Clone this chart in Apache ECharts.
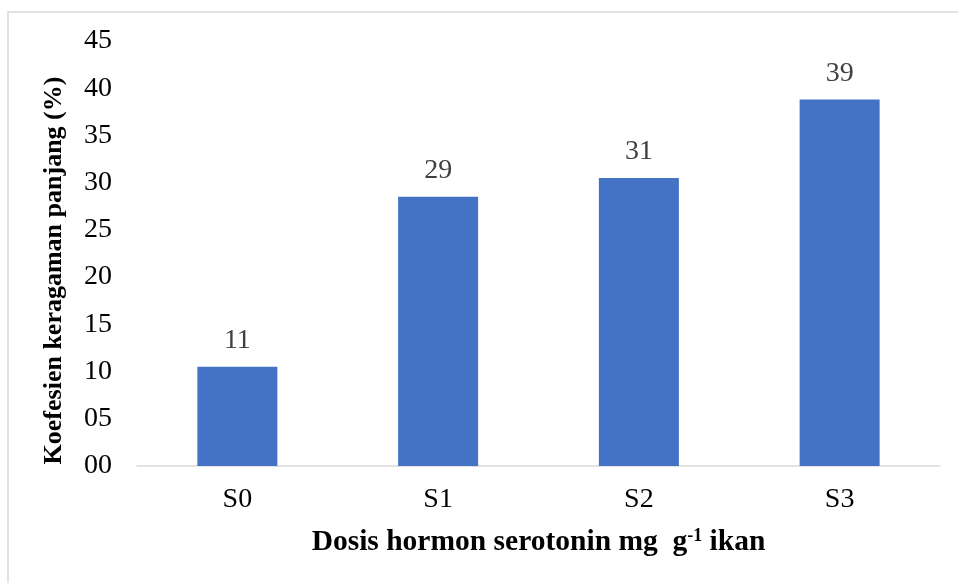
<!DOCTYPE html>
<html>
<head>
<meta charset="utf-8">
<title>Koefesien keragaman panjang</title>
<script src="https://cdn.jsdelivr.net/npm/echarts@6/dist/echarts.min.js"></script>
<style>
    html, body { margin: 0; padding: 0; background: #ffffff; }
    #chart { width: 958px; height: 583px; }
</style>
</head>
<body>
<div id="chart"></div>
<script>
var categories = ['S0', 'S1', 'S2', 'S3'];
var values = [10.5, 28.5, 30.5, 38.8];

var serif = '"Liberation Serif", "Times New Roman", serif';

var option = {
    animation: false,
    textStyle: { fontFamily: serif },
    graphic: [{
        type: 'rect',
        shape: { x: 8, y: 12, width: 1000, height: 1000 },
        style: { fill: 'none', stroke: '#d9d9d9', lineWidth: 1.5 }
    }],
    grid: { left: 137, right: 18, top: 41, bottom: 117 },
    xAxis: {
        type: 'category',
        data: categories,
        axisLine: { lineStyle: { color: '#d9d9d9', width: 1.5 } },
        axisTick: { show: false },
        axisLabel: { color: '#000000', fontSize: 28, fontFamily: serif, margin: 20 },
        name: '{t|Dosis hormon serotonin mg  g}{sup|-1}{t| ikan}',
        nameLocation: 'middle',
        nameGap: 61,
        nameTextStyle: {
            rich: {
                t: { fontSize: 29.5, fontWeight: 'bold', color: '#000000', fontFamily: serif },
                sup: { fontSize: 18, fontWeight: 'bold', color: '#000000', fontFamily: serif, padding: [0, 0, 12, 0] }
            }
        }
    },
    yAxis: {
        type: 'value',
        min: 0,
        max: 45,
        interval: 5,
        splitLine: { show: false },
        axisLine: { show: false },
        axisTick: { show: false },
        axisLabel: {
            color: '#000000',
            fontSize: 28,
            fontFamily: serif,
            margin: 25,
            formatter: function (v) { return (v < 10 ? '0' : '') + v; }
        },
        name: 'Koefesien keragaman panjang (%)',
        nameLocation: 'middle',
        nameGap: 70,
        nameTextStyle: {
            fontSize: 26,
            fontWeight: 'bold',
            color: '#000000',
            fontFamily: serif,
            padding: [0, 34, 0, 0]
        }
    },
    series: [{
        type: 'bar',
        data: values,
        barWidth: 80,
        itemStyle: { color: '#4472C4' },
        label: {
            show: true,
            position: 'top',
            distance: 12,
            color: '#404040',
            fontSize: 28,
            fontFamily: serif,
            formatter: function (p) { return Math.round(p.value); }
        }
    }]
};

var myChart = echarts.init(document.getElementById('chart'));
myChart.setOption(option);
</script>
</body>
</html>
